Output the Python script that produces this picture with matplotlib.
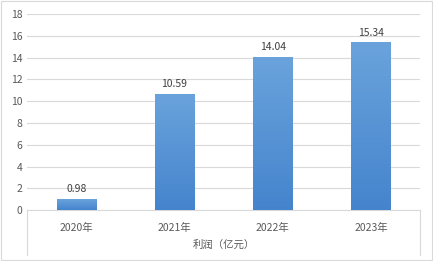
import numpy as np
import matplotlib.pyplot as plt
from matplotlib.colors import LinearSegmentedColormap

plt.rcParams['font.family'] = ['Noto Sans CJK SC', 'DejaVu Sans']

years = ['2020年', '2021年', '2022年', '2023年']
profit = [0.98, 10.59, 14.04, 15.34]
yticks = [0, 2, 4, 6, 8, 10, 12, 14, 16, 18]

fig = plt.figure(figsize=(4.33, 2.61), dpi=100)
ax = fig.add_axes([0.063, 0.195, 0.907, 0.751])

# gradient bars (lighter top, darker bottom)
cmap = LinearSegmentedColormap.from_list('bar', ['#4584cd', '#6aa3dc'])
grad = np.linspace(0, 1, 256).reshape(-1, 1)
w = 0.4
x = np.arange(len(years))
for xi, v in zip(x, profit):
    ax.imshow(grad, extent=(xi - w / 2, xi + w / 2, 0, v), origin='lower',
              cmap=cmap, aspect='auto', zorder=3)
    ax.text(xi, v + 0.5, f'{v:.2f}', ha='center', va='bottom',
            fontsize=7.5, color='#404040', zorder=4)

ax.set_xlim(-0.5, len(years) - 0.5)
ax.set_ylim(0, 18)
ax.set_yticks(yticks)
ax.set_xticks(x)
ax.set_xticklabels(years)
ax.tick_params(axis='both', length=0, labelsize=7.5, colors='#595959')
ax.tick_params(axis='x', pad=9)
ax.grid(axis='y', color='#d9d9d9', linewidth=0.8, zorder=0)
for s in ['top', 'right', 'left']:
    ax.spines[s].set_visible(False)
ax.spines['bottom'].set_color('#d9d9d9')

# category frame lines below the axis
for xx in [0, 1]:
    ax.plot([xx, xx], [0, -0.23], transform=ax.transAxes, color='#d9d9d9',
            linewidth=0.8, clip_on=False)

ax.set_xlabel('利润（亿元）', fontsize=7.5, color='#595959', labelpad=5)

# outer border
fig.patches.append(plt.Rectangle((0.002, 0.004), 0.995, 0.992, transform=fig.transFigure,
                                 fill=False, edgecolor='#d9d9d9', linewidth=0.8))

fig.savefig('out.png', dpi=100)
